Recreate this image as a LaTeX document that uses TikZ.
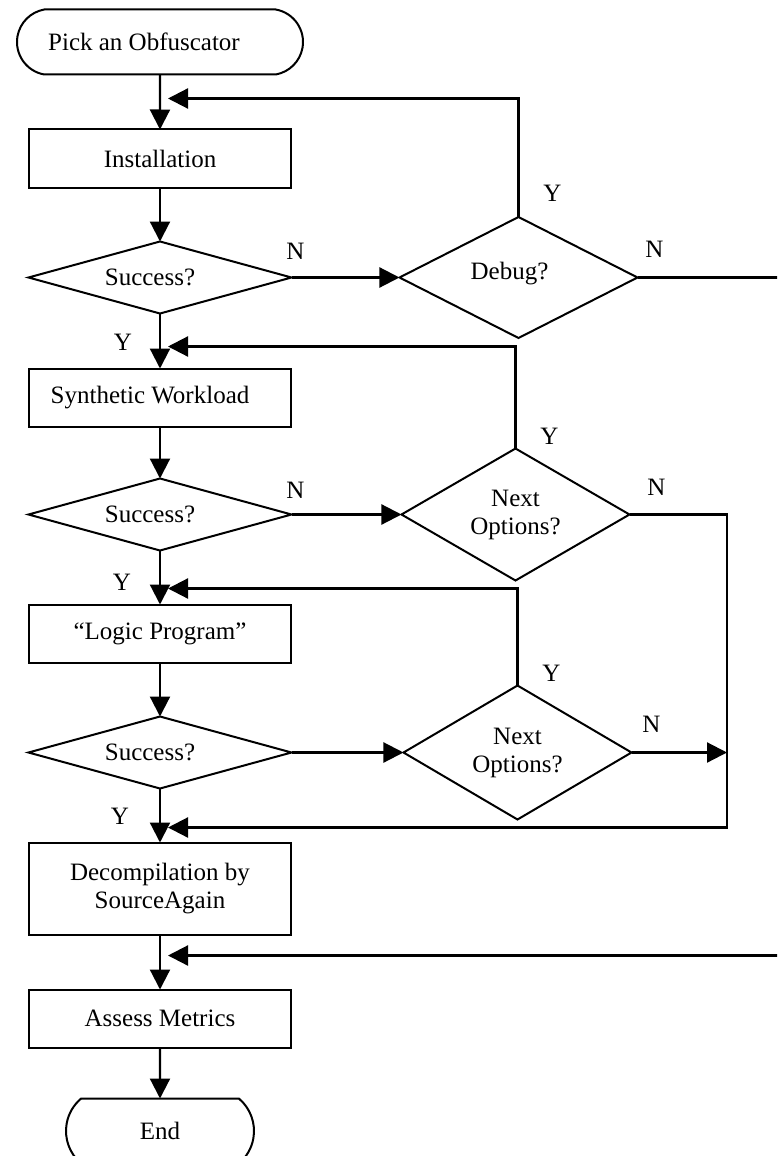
\documentclass[tikz,border=0pt]{standalone}
\usepackage{fontspec}
\setmainfont{Liberation Serif}
\usetikzlibrary{arrows.meta,positioning,shapes.geometric,shapes.misc}
\tikzset{
    %Define standard arrow tip
    >={Triangle[length=10pt,width=10pt]},
    %Define style for boxes
    process/.style={
           rectangle,
           draw=black, line width=1pt,
           minimum width=131pt,
           minimum height=29pt,
           inner sep=1pt, outer sep=0pt,
           align=center,
           font=\fontsize{12.5}{14}\selectfont},
    terminal/.style={
           rounded rectangle,
           rounded rectangle arc length=160,
           draw=black, line width=1pt,
           minimum width=145pt,
           minimum height=32.5pt,
           inner sep=1pt, outer sep=0pt,
           font=\fontsize{12.5}{14}\selectfont},
    decision/.style={
           diamond,
           draw=black, line width=1pt,
           shape aspect=3.5,
           minimum width=131.5pt,
           minimum height=36pt,
           inner sep=1pt, outer sep=0pt,
           align=center,
           font=\fontsize{12.5}{14}\selectfont},
    query/.style={
           decision,
           shape aspect=1.7,
           minimum width=114pt,
           minimum height=66pt},
    % Define arrow style
    pil/.style={
           ->,
           line width=1.1pt},
    wire/.style={
           line width=1.1pt},
    yn/.style={
           inner sep=0pt,
           font=\fontsize{12.5}{14}\selectfont}
}
\begin{document}
\begin{tikzpicture}[node distance=27pt]
\useasboundingbox (0,0) rectangle (388.5pt,-578pt);
\clip (0,0) rectangle (388.5pt,-578pt);
% main column
\node[terminal] (start) at (80pt,-21pt) {Pick an Obfuscator\hspace*{16pt}};
\node[process, below=27.5pt of start] (inst) {Installation};
\node[decision, below=of inst] (s1) {Success?\hspace*{10pt}};
\node[process, below=27.5pt of s1] (synth) {Synthetic Workload\hspace*{10pt}};
\node[decision, below=26pt of synth] (s2) {Success?\hspace*{10pt}};
\node[process, below=of s2] (logic) {“Logic Program”};
\node[decision, below=of logic] (s3) {Success?\hspace*{10pt}};
\node[process, minimum height=46pt, below=of s3] (decomp) {Decompilation by\\SourceAgain};
\node[process, below=27.5pt of decomp] (assess) {Assess Metrics};
\node[terminal, minimum width=96pt, rounded rectangle arc length=100, below=25.5pt of assess] (end) {End};
% side decisions
\node[query, shape aspect=2, minimum width=119pt, minimum height=60.5pt, right=54pt of s1] (dbg) {\raisebox{7pt}{Debug?}\hspace*{9pt}};
\node[query, right=55pt of s2] (nxt1) {Next\\Options?};
\node[query, minimum height=67pt, right=56pt of s3] (nxt2) {Next\\Options?};
% joints
\coordinate (fb1) at ([xshift=4pt,yshift=15.5pt]inst.north);
\coordinate (fb2) at ([xshift=4pt,yshift=11pt]synth.north);
\coordinate (fb3) at ([xshift=4pt,yshift=8pt]logic.north);
\coordinate (fb4) at ([xshift=4pt,yshift=7.5pt]decomp.north);
\coordinate (fb5) at ([xshift=4pt,yshift=17pt]assess.north);
\coordinate (rail) at (363.5pt,0);
\coordinate (edge) at (395pt,0);
\path[pil]
	(start) edge (inst)
	(inst) edge (s1)
	(s1) edge (synth)
	(synth) edge (s2)
	(s2) edge (logic)
	(logic) edge (s3)
	(s3) edge (decomp)
	(decomp) edge (assess)
	(assess) edge (end)
	(s1) edge (dbg)
	(s2) edge (nxt1)
	(s3) edge (nxt2);
\draw[pil] (dbg.north) |- (fb1);
\draw[pil] (nxt1.north) |- (fb2);
\draw[pil] (nxt2.north) |- (fb3);
\draw[pil] (nxt1.east) -- (nxt1.east -| rail) |- (fb4);
\draw[pil] (nxt2.east) -- (nxt2.east -| rail);
\draw[wire] (dbg.east) -- (dbg.east -| edge);
\draw[pil] (fb5 -| edge) -- (fb5);
% labels
\node[yn] at ([shift={(2pt,13pt)}]s1.east) {N};
\node[yn] at ([shift={(-18.5pt,-14.5pt)}]s1.south) {Y};
\node[yn] at ([shift={(8.5pt,14pt)}]dbg.east) {N};
\node[yn] at ([shift={(17pt,12pt)}]dbg.north) {Y};
\node[yn] at ([shift={(2pt,12pt)}]s2.east) {N};
\node[yn] at ([shift={(-19pt,-16pt)}]s2.south) {Y};
\node[yn] at ([shift={(13.5pt,13.5pt)}]nxt1.east) {N};
\node[yn] at ([shift={(17pt,6pt)}]nxt1.north) {Y};
\node[yn] at ([shift={(-20pt,-14pt)}]s3.south) {Y};
\node[yn] at ([shift={(10pt,14pt)}]nxt2.east) {N};
\node[yn] at ([shift={(17pt,6pt)}]nxt2.north) {Y};
\end{tikzpicture}
\end{document}
